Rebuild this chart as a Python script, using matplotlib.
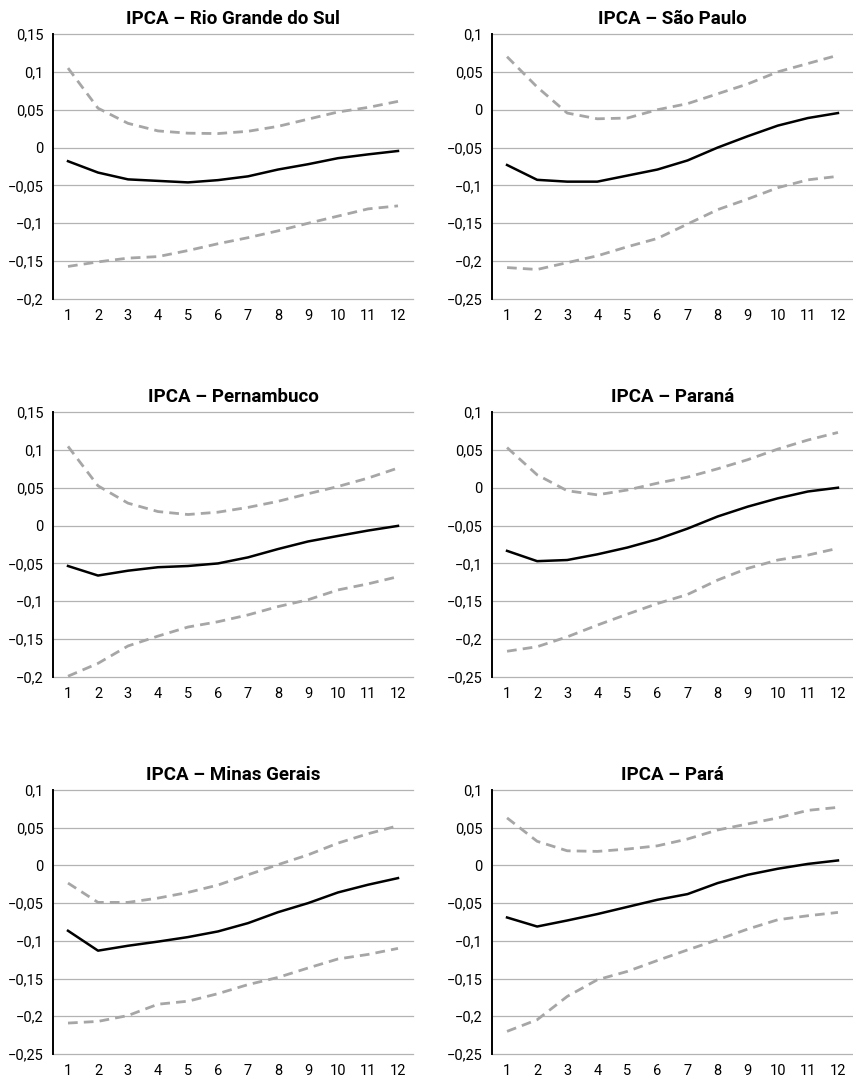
import matplotlib
matplotlib.use("Agg")
import matplotlib.pyplot as plt
from matplotlib.ticker import FuncFormatter, MultipleLocator

plt.rcParams['font.family'] = ['Roboto', 'DejaVu Sans']

months = list(range(1, 13))

titles = ["IPCA – Rio Grande do Sul", "IPCA – São Paulo",
          "IPCA – Pernambuco", "IPCA – Paraná",
          "IPCA – Minas Gerais", "IPCA – Pará"]

ylims = [(-0.2, 0.15), (-0.25, 0.1),
         (-0.2, 0.15), (-0.25, 0.1),
         (-0.25, 0.1), (-0.25, 0.1)]

rs_mid = [-0.018, -0.033, -0.042, -0.044, -0.046, -0.043, -0.038, -0.029, -0.022, -0.014, -0.009, -0.0045]
rs_up = [0.105, 0.052, 0.032, 0.022, 0.019, 0.0185, 0.0215, 0.028, 0.0375, 0.047, 0.053, 0.061]
rs_lo = [-0.157, -0.151, -0.146, -0.144, -0.136, -0.127, -0.119, -0.110, -0.100, -0.0905, -0.081, -0.077]

sp_mid = [-0.073, -0.0926, -0.095, -0.095, -0.087, -0.079, -0.067, -0.050, -0.035, -0.021, -0.011, -0.0044]
sp_up = [0.070, 0.030, -0.0044, -0.012, -0.011, 0.0, 0.008, 0.021, 0.034, 0.050, 0.061, 0.072]
sp_lo = [-0.2085, -0.211, -0.202, -0.193, -0.181, -0.170, -0.151, -0.132, -0.118, -0.103, -0.0926, -0.088]

pe_mid = [-0.0534, -0.066, -0.0596, -0.055, -0.0534, -0.050, -0.042, -0.031, -0.021, -0.0137, -0.0066, -0.0004]
pe_up = [0.1046, 0.0525, 0.0296, 0.0185, 0.0146, 0.0177, 0.024, 0.032, 0.042, 0.0516, 0.0627, 0.076]
pe_lo = [-0.199, -0.182, -0.159, -0.146, -0.134, -0.127, -0.118, -0.107, -0.098, -0.085, -0.077, -0.0675]

pr_mid = [-0.0834, -0.097, -0.0955, -0.088, -0.079, -0.068, -0.054, -0.038, -0.025, -0.014, -0.005, 0.0]
pr_up = [0.053, 0.017, -0.004, -0.0094, -0.003, 0.006, 0.014, 0.025, 0.037, 0.051, 0.063, 0.073]
pr_lo = [-0.216, -0.210, -0.197, -0.1815, -0.167, -0.153, -0.141, -0.122, -0.1065, -0.0955, -0.089, -0.080]

mg_mid = [-0.0866, -0.113, -0.1065, -0.101, -0.095, -0.0875, -0.0765, -0.062, -0.050, -0.0358, -0.0256, -0.0168]
mg_up = [-0.0234, -0.049, -0.049, -0.0433, -0.0358, -0.026, -0.0124, 0.001, 0.014, 0.0296, 0.042, 0.0526]
mg_lo = [-0.209, -0.2068, -0.199, -0.184, -0.180, -0.170, -0.158, -0.1485, -0.136, -0.124, -0.118, -0.110]

pa_mid = [-0.069, -0.081, -0.073, -0.0645, -0.055, -0.0455, -0.038, -0.0234, -0.0124, -0.0044, 0.002, 0.0066]
pa_up = [0.063, 0.032, 0.0194, 0.0186, 0.0217, 0.026, 0.035, 0.047, 0.055, 0.063, 0.073, 0.077]
pa_lo = [-0.220, -0.2046, -0.1737, -0.1516, -0.1405, -0.126, -0.112, -0.0985, -0.0844, -0.072, -0.0667, -0.0623]

series = [(rs_mid, rs_up, rs_lo), (sp_mid, sp_up, sp_lo),
          (pe_mid, pe_up, pe_lo), (pr_mid, pr_up, pr_lo),
          (mg_mid, mg_up, mg_lo), (pa_mid, pa_up, pa_lo)]


def br_fmt(v, pos):
    if abs(v) < 1e-9:
        return "0"
    s = "{:g}".format(round(v, 4)).replace(".", ",")
    return s.replace("-", "\u2212")


fig = plt.figure(figsize=(8.54, 10.81), dpi=100)
W, H = 854, 1081
lefts = [53, 492]
widths = [360, 361]
tops = [34, 412, 790]
heights = [265, 265, 264]

for i, (title, ylim, (mid, up, lo)) in enumerate(zip(titles, ylims, series)):
    r, c = divmod(i, 2)
    ax = fig.add_axes([lefts[c] / W, 1 - (tops[r] + heights[r]) / H,
                       widths[c] / W, heights[r] / H])
    ax.plot(months, up, color="#a6a6a6", lw=2.0, dashes=(3.5, 2.2))
    ax.plot(months, lo, color="#a6a6a6", lw=2.0, dashes=(3.5, 2.2))
    ax.plot(months, mid, color="black", lw=1.8)
    ax.set_xlim(0.5, 12.5)
    ax.set_ylim(*ylim)
    ax.yaxis.set_major_locator(MultipleLocator(0.05))
    ax.yaxis.set_major_formatter(FuncFormatter(br_fmt))
    ax.set_xticks(months)
    ax.grid(axis="y", color="#b3b3b3", lw=0.9)
    for gl in ax.get_ygridlines():
        gl.set_clip_on(False)
    ax.set_axisbelow(True)
    for s in ["top", "right", "bottom"]:
        ax.spines[s].set_visible(False)
    ax.spines["left"].set_linewidth(1.4)
    ax.tick_params(length=0, labelsize=10.5)
    ax.tick_params(axis="y", pad=7)
    ax.tick_params(axis="x", pad=7)
    ax.set_title(title, fontsize=13.5, fontweight="bold", pad=7)

fig.savefig("out.png", dpi=100)
